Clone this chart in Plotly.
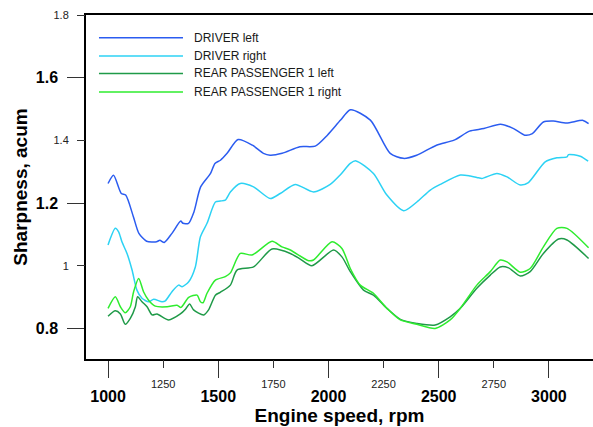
import plotly.graph_objects as go

# ---------------- data ----------------
drv_left_rpm = [1000, 1025, 1060, 1080, 1115, 1140, 1175, 1220, 1235, 1255, 1290, 1330, 1340, 1365,
                1390, 1420, 1465, 1485, 1510, 1540, 1590, 1655, 1705, 1735, 1790, 1870, 1940, 1995,
                2055, 2100, 2190, 2280, 2340, 2400, 2490, 2570, 2640, 2705, 2780, 2840, 2890, 2925,
                2975, 3020, 3080, 3155, 3180]
drv_left = [1.263, 1.289, 1.231, 1.226, 1.157, 1.104, 1.079, 1.077, 1.082, 1.075, 1.104, 1.143, 1.136, 1.136,
            1.173, 1.252, 1.295, 1.327, 1.337, 1.359, 1.403, 1.385, 1.359, 1.353, 1.359, 1.380, 1.382, 1.417,
            1.465, 1.498, 1.465, 1.359, 1.343, 1.353, 1.385, 1.401, 1.430, 1.438, 1.452, 1.438, 1.417, 1.422,
            1.459, 1.462, 1.456, 1.464, 1.454]

drv_right_rpm = [1000, 1033, 1048, 1063, 1086, 1109, 1131, 1154, 1184, 1207, 1245, 1260, 1290, 1320,
                 1336, 1366, 1396, 1419, 1449, 1487, 1509, 1532, 1555, 1600, 1660, 1736, 1781, 1849,
                 1932, 2008, 2053, 2099, 2125, 2204, 2265, 2341, 2401, 2462, 2507, 2598, 2643, 2681,
                 2696, 2764, 2810, 2870, 2907, 2983, 3036, 3082, 3089, 3142, 3178]
drv_right = [1.067, 1.120, 1.109, 1.077, 1.040, 0.987, 0.923, 0.897, 0.886, 0.894, 0.886, 0.889, 0.918, 0.939,
             0.934, 0.950, 0.997, 1.093, 1.136, 1.204, 1.207, 1.210, 1.236, 1.263, 1.252, 1.215, 1.231, 1.260,
             1.236, 1.260, 1.290, 1.327, 1.335, 1.295, 1.226, 1.176, 1.204, 1.242, 1.260, 1.290, 1.287, 1.281,
             1.279, 1.295, 1.284, 1.258, 1.266, 1.332, 1.345, 1.348, 1.355, 1.350, 1.334]

rear_left_rpm = [1000, 1033, 1056, 1078, 1101, 1124, 1134, 1154, 1177, 1200, 1222, 1275, 1328, 1351,
                 1370, 1388, 1434, 1456, 1487, 1509, 1555, 1585, 1660, 1744, 1827, 1872, 1925, 2023,
                 2061, 2099, 2159, 2204, 2265, 2326, 2401, 2484, 2552, 2598, 2673, 2734, 2779, 2817,
                 2870, 2915, 2975, 3044, 3082, 3180]
rear_left = [0.840, 0.857, 0.847, 0.814, 0.833, 0.870, 0.902, 0.886, 0.870, 0.844, 0.847, 0.828, 0.847, 0.862,
             0.879, 0.860, 0.844, 0.860, 0.907, 0.916, 0.939, 0.987, 0.997, 1.054, 1.040, 1.022, 1.001, 1.051,
             1.029, 0.982, 0.923, 0.907, 0.865, 0.830, 0.817, 0.812, 0.838, 0.865, 0.929, 0.971, 0.997, 0.994,
             0.968, 0.982, 1.040, 1.086, 1.083, 1.024]

rear_right_rpm = [1000, 1033, 1056, 1078, 1101, 1116, 1139, 1161, 1184, 1214, 1268, 1313, 1331, 1366,
                  1404, 1419, 1431, 1449, 1487, 1532, 1555, 1600, 1653, 1744, 1789, 1827, 1910, 1932,
                  2016, 2061, 2099, 2144, 2204, 2265, 2326, 2401, 2484, 2552, 2598, 2673, 2734, 2779,
                  2810, 2870, 2915, 2975, 3036, 3082, 3180]
rear_right = [0.865, 0.902, 0.870, 0.851, 0.870, 0.918, 0.960, 0.918, 0.891, 0.872, 0.870, 0.875, 0.868, 0.900,
              0.907, 0.886, 0.883, 0.913, 0.955, 0.966, 0.978, 1.040, 1.035, 1.079, 1.061, 1.051, 1.017, 1.019,
              1.077, 1.056, 0.992, 0.939, 0.913, 0.865, 0.828, 0.814, 0.801, 0.828, 0.865, 0.939, 0.982, 1.019,
              1.013, 0.980, 0.992, 1.061, 1.120, 1.120, 1.058]

series_names = ["DRIVER left", "DRIVER right", "REAR PASSENGER 1 left", "REAR PASSENGER 1 right"]
series_colors = ["#2b5cf0", "#2cd2f4", "#1f9a48", "#2eec2e"]

x_major_ticks = [1000, 1500, 2000, 2500, 3000]
x_minor_ticks = [1250, 1750, 2250, 2750]
y_major_ticks = [0.8, 1.2, 1.6]
y_minor_ticks = [1.0, 1.4, 1.8]
y_minor_labels = ["1", "1.4", "1.8"]

x_range = [900, 3200]
y_range = [0.7035, 1.8]

FONT = "Liberation Sans, Arial, sans-serif"

# ---------------- figure ----------------
fig = go.Figure()
all_x = [drv_left_rpm, drv_right_rpm, rear_left_rpm, rear_right_rpm]
all_y = [drv_left, drv_right, rear_left, rear_right]
for name, xs, ys, col in zip(series_names, all_x, all_y, series_colors):
    fig.add_trace(go.Scatter(x=xs, y=ys, name=name, mode="lines",
                             line=dict(color=col, width=1.5, shape="spline", smoothing=0.7),
                             showlegend=False))

# helper trace so the minor-label axes are drawn
fig.add_trace(go.Scatter(x=[None], y=[None], xaxis="x2", yaxis="y2", showlegend=False,
                         hoverinfo="skip"))

# manual legend (long sample lines like the reference)
leg_y = [0.934, 0.881, 0.830, 0.776]
for name, col, yy in zip(series_names, series_colors, leg_y):
    fig.add_shape(type="line", xref="paper", yref="paper", x0=0.0256, x1=0.1913, y0=yy, y1=yy,
                  line=dict(color=col, width=1.5))
    fig.add_annotation(xref="paper", yref="paper", x=0.2091, y=yy, text=name, showarrow=False,
                       xanchor="left", yanchor="middle", font=dict(family=FONT, size=12, color="#1a1a1a"))

axis_common = dict(showgrid=False, zeroline=False, ticks="outside")

fig.update_layout(
    width=593, height=427,
    margin=dict(l=86, r=0, t=15, b=68),
    paper_bgcolor="white", plot_bgcolor="white",
    font=dict(family=FONT, color="black"),
    xaxis=dict(range=x_range, tickvals=x_major_ticks, ticklen=17, tickwidth=1.3, tickcolor="#333",
               tickfont=dict(family=FONT, size=16, weight="bold", color="black"),
               showline=True, linecolor="black", linewidth=1.5, mirror=True,
               ticklabelstandoff=5,
               title=dict(text="Engine speed, rpm", standoff=0,
                          font=dict(family=FONT, size=19, weight="bold", color="black")),
               **axis_common),
    xaxis2=dict(range=x_range, overlaying="x", anchor="y", side="bottom", tickvals=x_minor_ticks,
                ticklen=8, tickwidth=1.3, tickcolor="#333", showline=False,
                tickfont=dict(family=FONT, size=11, color="#222"), ticklabelstandoff=7,
                **axis_common),
    yaxis=dict(range=y_range, tickvals=y_major_ticks, ticklen=17, tickwidth=1.3, tickcolor="#333",
               tickfont=dict(family=FONT, size=16, weight="bold", color="black"),
               showline=True, linecolor="black", linewidth=1.5, mirror=False,
               ticklabelstandoff=6,
               title=dict(text="Sharpness, acum", standoff=3,
                          font=dict(family=FONT, size=19, weight="bold", color="black")),
               **axis_common),
    yaxis2=dict(range=y_range, overlaying="y", anchor="x", side="left", tickvals=y_minor_ticks,
                ticktext=y_minor_labels, ticklen=8, tickwidth=1.3, tickcolor="#333", showline=False,
                tickfont=dict(family=FONT, size=11, color="#222"), ticklabelstandoff=6,
                **axis_common),
)

fig.write_html("out.html")
